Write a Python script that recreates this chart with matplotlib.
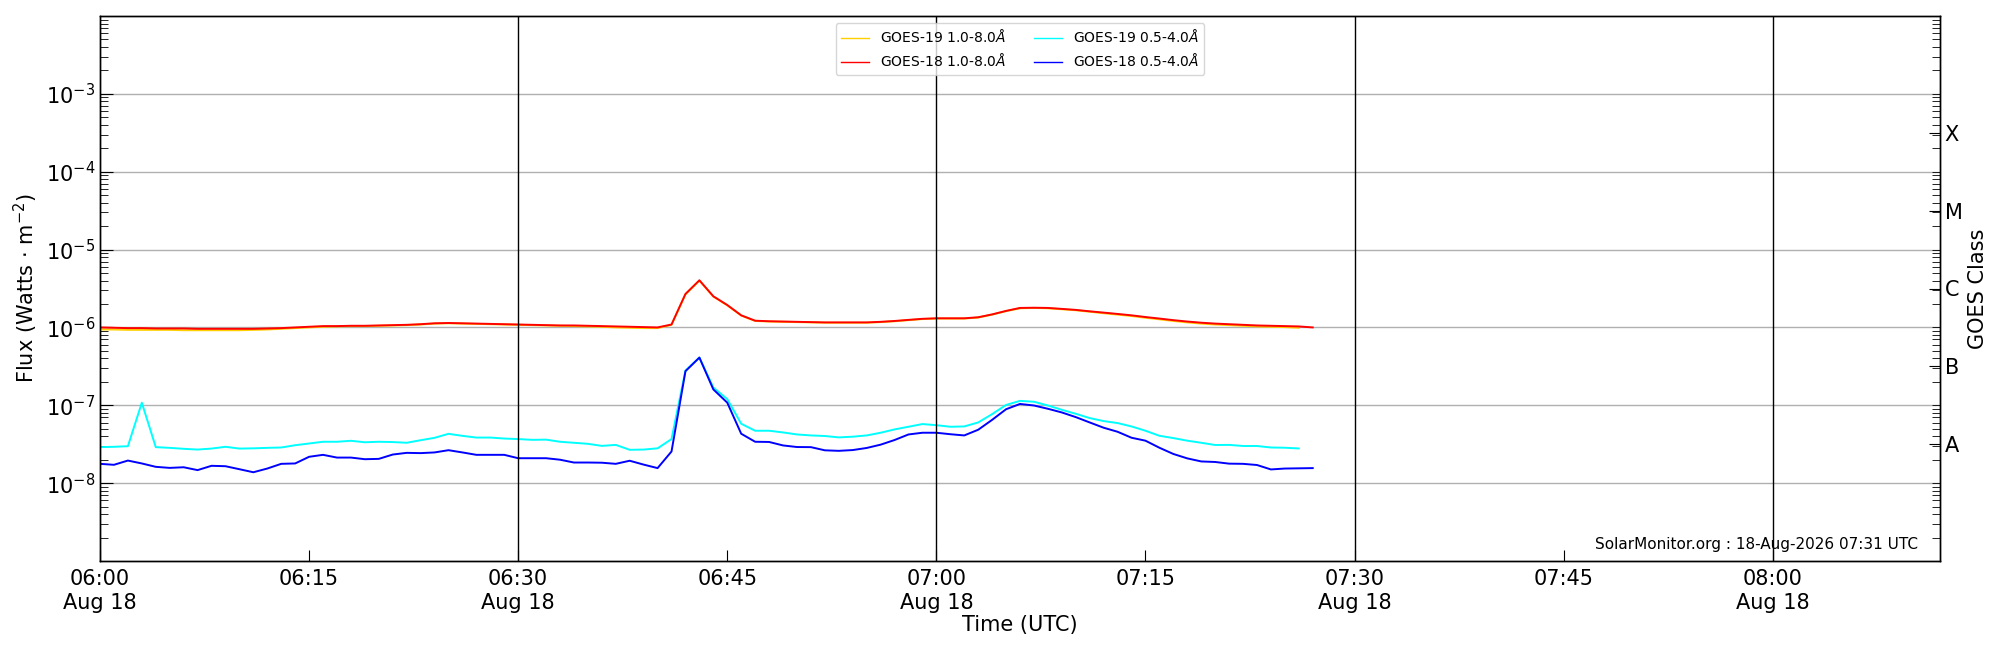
import numpy as np
import pandas as pd
import matplotlib
matplotlib.use("Agg")
import matplotlib.pyplot as plt
import matplotlib.dates as mdates
from matplotlib.ticker import FixedLocator, LogLocator, NullFormatter, FuncFormatter

# ---------------- data ----------------
start_time = "2026-08-18 06:00"
x_start = "2026-08-18 06:00"
x_end = "2026-08-18 08:12"

# GOES-18 1.0-8.0 A (units of 1e-6 W m^-2), 1-min cadence from 06:00
g18_long = [1.00, 0.99, 0.98, 0.98, 0.97, 0.97, 0.97, 0.96, 0.96, 0.96,
            0.96, 0.96, 0.97, 0.98, 1.00, 1.02, 1.04, 1.04, 1.05, 1.05,
            1.06, 1.07, 1.08, 1.10, 1.13, 1.14, 1.13, 1.12, 1.11, 1.10,
            1.09, 1.08, 1.07, 1.06, 1.06, 1.05, 1.04, 1.03, 1.02, 1.01,
            1.00, 1.09, 2.69, 4.03, 2.51, 1.94, 1.43, 1.22, 1.20, 1.19,
            1.18, 1.17, 1.16, 1.16, 1.16, 1.16, 1.18, 1.21, 1.25, 1.29,
            1.31, 1.31, 1.31, 1.35, 1.47, 1.63, 1.78, 1.79, 1.78, 1.73,
            1.68, 1.61, 1.55, 1.49, 1.43, 1.36, 1.30, 1.24, 1.19, 1.15,
            1.12, 1.10, 1.08, 1.06, 1.05, 1.04, 1.03, 1.00]

# GOES-19 1.0-8.0 A (units of 1e-6)
g19_long = [0.94, 0.94, 0.93, 0.93, 0.93, 0.93, 0.92, 0.92, 0.92, 0.92,
            0.92, 0.93, 0.94, 0.96, 0.98, 1.00, 1.02, 1.03, 1.04, 1.04,
            1.05, 1.06, 1.07, 1.09, 1.12, 1.13, 1.12, 1.11, 1.10, 1.09,
            1.08, 1.07, 1.06, 1.05, 1.04, 1.03, 1.02, 1.00, 0.99, 0.98,
            0.98, 1.08, 2.66, 4.00, 2.49, 1.92, 1.42, 1.21, 1.19, 1.18,
            1.17, 1.16, 1.15, 1.15, 1.15, 1.15, 1.17, 1.20, 1.24, 1.28,
            1.30, 1.30, 1.30, 1.34, 1.46, 1.62, 1.76, 1.78, 1.76, 1.71,
            1.66, 1.59, 1.52, 1.46, 1.40, 1.33, 1.27, 1.21, 1.16, 1.12,
            1.09, 1.07, 1.05, 1.03, 1.02, 1.01, 0.99]

# GOES-18 0.5-4.0 A (units of 1e-8)
g18_short = [1.77, 1.72, 1.95, 1.79, 1.62, 1.57, 1.60, 1.47, 1.67, 1.65,
             1.51, 1.38, 1.54, 1.77, 1.79, 2.18, 2.31, 2.13, 2.13, 2.03,
             2.05, 2.33, 2.45, 2.43, 2.48, 2.65, 2.48, 2.31, 2.31, 2.31,
             2.09, 2.09, 2.09, 2.00, 1.84, 1.84, 1.83, 1.77, 1.94, 1.73,
             1.56, 2.55, 27.4, 41.0, 16.0, 10.8, 4.31, 3.40, 3.38, 3.05,
             2.91, 2.90, 2.64, 2.60, 2.66, 2.83, 3.12, 3.58, 4.22, 4.44,
             4.44, 4.25, 4.10, 4.85, 6.50, 8.90, 10.4, 9.94, 9.02, 8.09,
             7.05, 6.02, 5.15, 4.57, 3.83, 3.51, 2.85, 2.37, 2.08, 1.90,
             1.87, 1.78, 1.77, 1.71, 1.50, 1.54, 1.55, 1.56]

# GOES-19 0.5-4.0 A (units of 1e-8)
g19_short = [2.90, 2.93, 2.98, 10.8, 2.90, 2.84, 2.76, 2.70, 2.78, 2.93,
             2.78, 2.80, 2.84, 2.87, 3.07, 3.23, 3.40, 3.40, 3.50, 3.35,
             3.40, 3.37, 3.30, 3.56, 3.82, 4.30, 4.05, 3.85, 3.85, 3.74,
             3.68, 3.60, 3.62, 3.40, 3.30, 3.20, 3.01, 3.10, 2.68, 2.70,
             2.80, 3.68, 28.0, 41.0, 16.9, 12.0, 5.79, 4.71, 4.71, 4.48,
             4.22, 4.10, 4.03, 3.87, 3.95, 4.10, 4.44, 4.90, 5.30, 5.74,
             5.55, 5.30, 5.35, 6.02, 7.70, 10.1, 11.4, 11.1, 9.94, 8.75,
             7.78, 6.85, 6.27, 5.91, 5.35, 4.71, 4.06, 3.79, 3.51, 3.30,
             3.09, 3.10, 3.00, 3.00, 2.87, 2.85, 2.79]

series_labels = [r"GOES-19 1.0-8.0$\AA$", r"GOES-18 1.0-8.0$\AA$",
                 r"GOES-19 0.5-4.0$\AA$", r"GOES-18 0.5-4.0$\AA$"]
flux_decades = [1e-8, 1e-7, 1e-6, 1e-5, 1e-4, 1e-3]
goes_classes = ["A", "B", "C", "M", "X"]
class_centers = [10**-7.5, 10**-6.5, 10**-5.5, 10**-4.5, 10**-3.5]
stamp_text = "SolarMonitor.org : 18-Aug-2026 07:31 UTC"

# ---------------- plot ----------------
t_long18 = pd.date_range(start_time, periods=len(g18_long), freq="1min")
t_long19 = pd.date_range(start_time, periods=len(g19_long), freq="1min")
t_short18 = pd.date_range(start_time, periods=len(g18_short), freq="1min")
t_short19 = pd.date_range(start_time, periods=len(g19_short), freq="1min")

fig = plt.figure(figsize=(20, 6.5), dpi=100)
ax = fig.add_axes([0.05, 1 - 561 / 650, 0.92, (561 - 16) / 650])

lw = 1.4
ax.plot(t_long19, np.array(g19_long) * 1e-6, color="#ffd000", lw=lw, label=series_labels[0])
ax.plot(t_long18, np.array(g18_long) * 1e-6, color="red", lw=lw, label=series_labels[1])
ax.plot(t_short19, np.array(g19_short) * 1e-8, color="cyan", lw=lw, label=series_labels[2])
ax.plot(t_short18, np.array(g18_short) * 1e-8, color="blue", lw=lw, label=series_labels[3])

ax.set_yscale("log")
ax.set_ylim(1e-9, 1e-2)
ax.set_xlim(pd.Timestamp(x_start), pd.Timestamp(x_end))
ax.yaxis.set_major_locator(FixedLocator(flux_decades))
ax.yaxis.set_minor_locator(LogLocator(base=10, subs=np.arange(2, 10)))
ax.yaxis.set_minor_formatter(NullFormatter())

for yv in flux_decades:
    ax.axhline(yv, color="#b0b0b0", lw=1.0, zorder=0)

# x ticks every 15 minutes; vertical lines every 30 minutes
ax.xaxis.set_major_locator(mdates.MinuteLocator(byminute=[0, 15, 30, 45]))


def fmt_time(x, pos):
    d = mdates.num2date(x)
    if d.minute % 30 == 0:
        return d.strftime("%H:%M") + "\n" + d.strftime("%b %d")
    return d.strftime("%H:%M")


ax.xaxis.set_major_formatter(FuncFormatter(fmt_time))
for tt in pd.date_range(x_start, x_end, freq="30min")[1:]:
    ax.axvline(tt, color="black", lw=1.0)

fs = 15
ax.tick_params(axis="both", which="both", direction="in", labelsize=fs)
ax.tick_params(axis="y", which="major", length=9)
ax.tick_params(axis="y", which="minor", length=6)
ax.tick_params(axis="x", which="major", length=8, pad=6)
ax.tick_params(axis="y", which="both", right=False)

ax.set_xlabel("Time (UTC)", fontsize=fs, labelpad=2)
ax.set_ylabel(r"Flux (Watts $\cdot$ m$^{-2}$)", fontsize=fs)

ax2 = ax.twinx()
ax2.set_yscale("log")
ax2.set_ylim(1e-9, 1e-2)
ax2.yaxis.set_major_locator(FixedLocator(class_centers))
ax2.set_yticklabels(goes_classes)
ax2.yaxis.set_minor_locator(LogLocator(base=10, subs=np.arange(1, 10)))
ax2.yaxis.set_minor_formatter(NullFormatter())
ax2.tick_params(axis="y", which="both", direction="in", labelsize=fs)
ax2.tick_params(axis="y", which="major", length=8)
ax2.tick_params(axis="y", which="minor", length=6)
ax2.set_ylabel("GOES Class", fontsize=fs)

for a in (ax, ax2):
    for s in a.spines.values():
        s.set_linewidth(1.0)

leg = ax.legend(loc="upper center", ncol=2, fontsize=10)
for ln in leg.get_lines():
    ln.set_linewidth(1.0)

ax.text(0.988, 0.016, stamp_text, transform=ax.transAxes, ha="right", va="bottom",
        fontsize=11)

fig.savefig("out.png", dpi=100)
